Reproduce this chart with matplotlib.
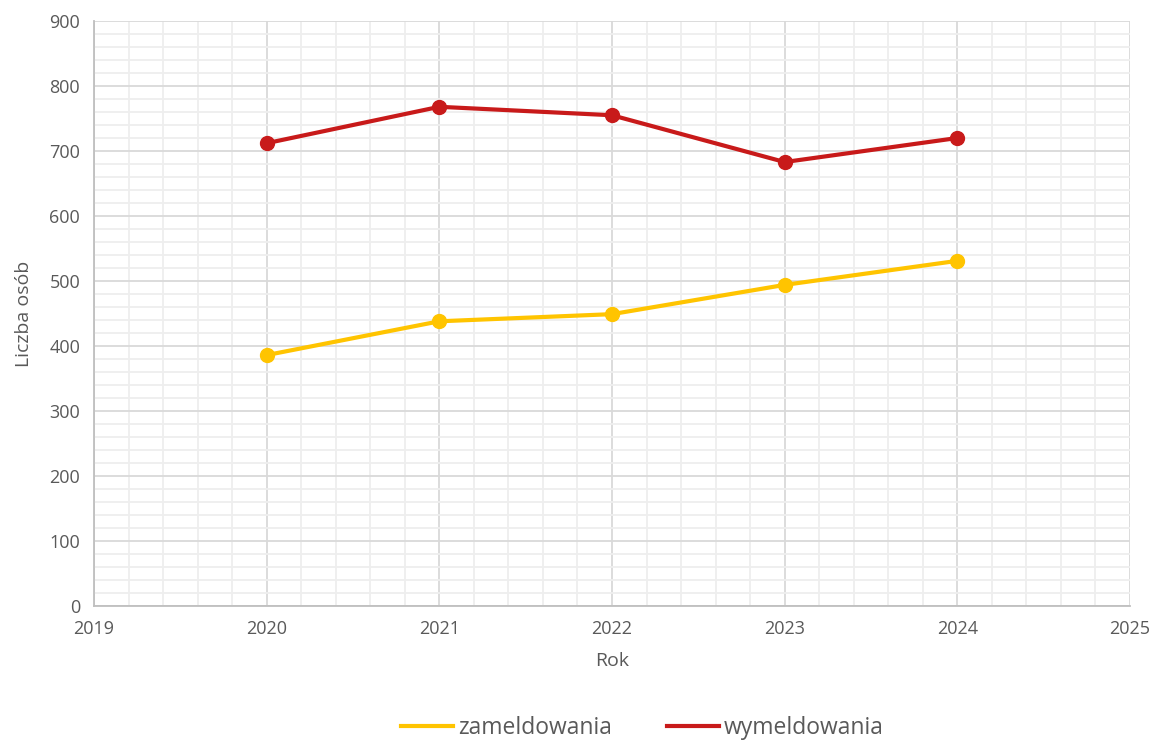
import matplotlib.pyplot as plt
from matplotlib.ticker import MultipleLocator

plt.switch_backend("Agg")
plt.rcParams["font.family"] = ["Open Sans", "DejaVu Sans"]

# Data
years = [2020, 2021, 2022, 2023, 2024]
zameldowania = [386, 438, 449, 494, 531]
wymeldowania = [712, 768, 755, 683, 720]

text_color = "#595959"
yellow = "#FFC400"
red = "#C81A1A"

fig = plt.figure(figsize=(11.53, 7.42), dpi=100)
ax = fig.add_axes([94 / 1153, 1 - 606 / 742, (1130 - 94) / 1153, (606 - 21) / 742])

ax.plot(years, zameldowania, color=yellow, lw=3, marker="o", ms=10,
        label="zameldowania", zorder=3)
ax.plot(years, wymeldowania, color=red, lw=3, marker="o", ms=10,
        label="wymeldowania", zorder=3)

ax.set_xlim(2019, 2025)
ax.set_ylim(0, 900)
ax.xaxis.set_major_locator(MultipleLocator(1))
ax.xaxis.set_minor_locator(MultipleLocator(0.2))
ax.yaxis.set_major_locator(MultipleLocator(100))
ax.yaxis.set_minor_locator(MultipleLocator(20))

ax.grid(which="major", color="#d9d9d9", lw=1.3, zorder=1)
ax.grid(which="minor", color="#eeeeee", lw=1.3, zorder=0)
ax.set_axisbelow(True)

for side in ["top", "right"]:
    ax.spines[side].set_visible(False)
for side in ["left", "bottom"]:
    ax.spines[side].set_color("#bfbfbf")
    ax.spines[side].set_linewidth(1.3)

ax.tick_params(which="both", length=0, labelsize=13, labelcolor=text_color)
ax.tick_params(axis="x", pad=10)
ax.tick_params(axis="y", pad=10)

ax.set_xlabel("Rok", fontsize=14, color=text_color, labelpad=10)
ax.set_ylabel("Liczba osób", fontsize=14, color=text_color, labelpad=12)

leg = fig.legend(loc="center", bbox_to_anchor=(0.557, 1 - 728 / 742), ncol=2,
                 frameon=False, fontsize=16.5, handlelength=2.3, handletextpad=0.2,
                 columnspacing=2.4)
for h in leg.legend_handles:
    h.set_marker("")
for t in leg.get_texts():
    t.set_color(text_color)

fig.savefig("out.png", dpi=100)
